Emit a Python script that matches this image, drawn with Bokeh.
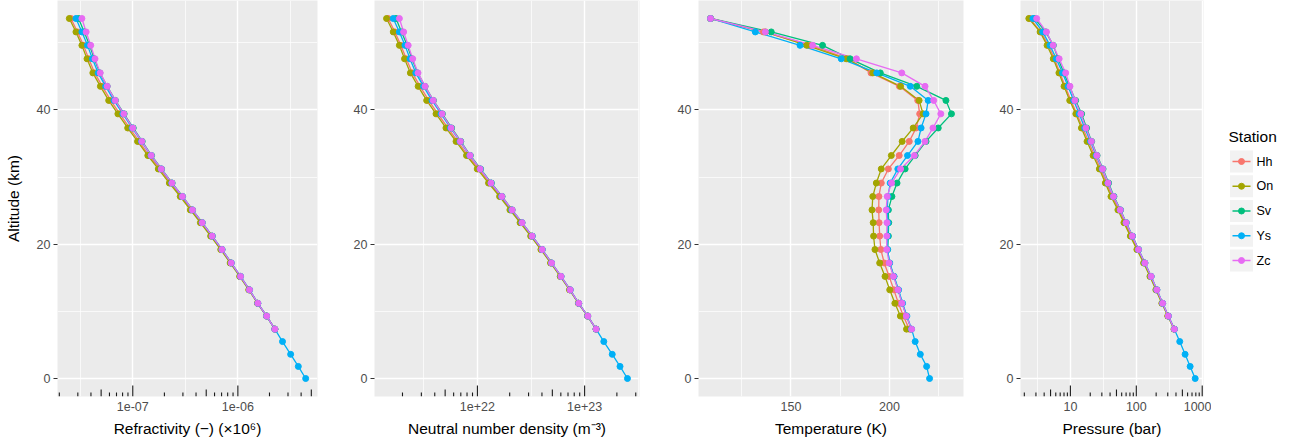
import math
from bokeh.plotting import figure
from bokeh.models import Range1d, FixedTicker, CustomJSTickFormatter
from bokeh.core.properties import value
from bokeh.layouts import row
from bokeh.embed import file_html
from bokeh.resources import INLINE

FONT = "Liberation Sans"

STATIONS = ["Hh", "On", "Sv", "Ys", "Zc"]
COLORS = {"Hh": "#F8766D", "On": "#A3A500", "Sv": "#00BF7D", "Ys": "#00B0F6", "Zc": "#E76BF3"}

# altitude levels (km); Ys covers all levels, the other stations start at 7.35 km
ALTITUDE = [0.0, 1.8, 3.6, 5.5, 7.35, 9.3, 11.2, 13.2, 15.2, 17.2, 19.2, 21.2, 23.2, 25.1,
            27.1, 29.1, 31.2, 33.2, 35.3, 37.3, 39.4, 41.4, 43.5, 45.5, 47.6, 49.6, 51.6, 53.6]
ALTITUDE_UPPER = ALTITUDE[4:]

# Temperature (K)
TEMP_HH = [210.0, 207.0, 204.5, 202.2, 199.8, 197.3, 195.6, 195.0, 194.7, 194.5, 194.6, 195.8,
           199.4, 204.9, 210.0, 213.5, 215.3, 214.3, 205.0, 190.6, 179.0, 160.0, 136.0, 109.2]
TEMP_ON = [208.6, 205.5, 202.7, 200.1, 197.7, 195.0, 192.6, 191.9, 191.7, 191.1, 191.5, 193.3,
           195.8, 200.9, 206.4, 212.0, 217.0, 215.0, 205.6, 191.5, 178.0, 158.0, 137.0, 109.2]
TEMP_SV = [211.0, 208.6, 206.4, 204.4, 202.2, 200.0, 199.0, 199.4, 199.6, 199.4, 201.2, 203.8,
           207.9, 213.0, 218.5, 224.7, 231.4, 228.6, 213.8, 195.3, 180.0, 166.0, 140.0, 109.2]
TEMP_YS = [220.3, 218.8, 215.6, 213.0, 211.2, 208.8, 206.6, 204.6, 202.3, 200.1, 199.0, 199.0,
           199.2, 198.8, 199.2, 200.3, 204.2, 209.1, 214.4, 216.0, 218.5, 219.6, 210.5, 193.5,
           175.5, 154.6, 131.9, 109.2]
TEMP_ZC = [211.2, 208.5, 206.3, 204.3, 202.0, 199.8, 198.6, 198.6, 198.7, 198.3, 198.8, 201.0,
           205.6, 212.6, 218.0, 222.0, 226.0, 222.4, 218.0, 206.2, 183.2, 161.0, 137.0, 109.2]

# Refractivity (-)
REFR_HH = [2.25e-6, 1.88e-6, 1.54e-6, 1.28e-6, 1.05e-6, 8.55e-7, 6.96e-7, 5.60e-7, 4.49e-7, 3.60e-7,
           2.89e-7, 2.29e-7, 1.80e-7, 1.43e-7, 1.15e-7, 9.31e-8, 7.53e-8, 6.16e-8, 5.13e-8, 4.34e-8,
           3.81e-8, 3.40e-8, 2.98e-8, 2.58e-8]
REFR_ON = [2.25e-6, 1.87e-6, 1.54e-6, 1.27e-6, 1.04e-6, 8.45e-7, 6.87e-7, 5.51e-7, 4.40e-7, 3.53e-7,
           2.83e-7, 2.23e-7, 1.75e-7, 1.39e-7, 1.11e-7, 8.95e-8, 7.22e-8, 5.90e-8, 4.92e-8, 4.17e-8,
           3.67e-8, 3.28e-8, 2.88e-8, 2.49e-8]
REFR_SV = [2.25e-6, 1.88e-6, 1.55e-6, 1.29e-6, 1.06e-6, 8.65e-7, 7.08e-7, 5.72e-7, 4.59e-7, 3.71e-7,
           2.98e-7, 2.37e-7, 1.88e-7, 1.51e-7, 1.23e-7, 1.01e-7, 8.28e-8, 6.84e-8, 5.71e-8, 4.86e-8,
           4.30e-8, 3.88e-8, 3.45e-8, 3.05e-8]
REFR_YS = [4.42e-6, 3.76e-6, 3.18e-6, 2.66e-6, 2.25e-6, 1.88e-6, 1.55e-6, 1.29e-6, 1.06e-6, 8.65e-7,
           7.06e-7, 5.69e-7, 4.57e-7, 3.68e-7, 2.96e-7, 2.35e-7, 1.86e-7, 1.49e-7, 1.21e-7, 9.86e-8,
           8.05e-8, 6.62e-8, 5.52e-8, 4.68e-8, 4.13e-8, 3.71e-8, 3.28e-8, 2.88e-8]
REFR_ZC = [2.25e-6, 1.88e-6, 1.55e-6, 1.29e-6, 1.06e-6, 8.65e-7, 7.06e-7, 5.70e-7, 4.58e-7, 3.70e-7,
           2.97e-7, 2.36e-7, 1.87e-7, 1.50e-7, 1.22e-7, 1.00e-7, 8.22e-8, 6.81e-8, 5.71e-8, 4.90e-8,
           4.37e-8, 3.98e-8, 3.60e-8, 3.28e-8]

# Neutral number density (m^-3)
DENS_HH = [1.28e23, 1.07e23, 8.76e22, 7.28e22, 5.97e22, 4.86e22, 3.96e22, 3.19e22, 2.55e22, 2.05e22,
           1.64e22, 1.30e22, 1.02e22, 8.14e21, 6.54e21, 5.30e21, 4.28e21, 3.51e21, 2.92e21, 2.47e21,
           2.17e21, 1.93e21, 1.70e21, 1.47e21]
DENS_ON = [1.28e23, 1.06e23, 8.76e22, 7.23e22, 5.92e22, 4.81e22, 3.91e22, 3.14e22, 2.50e22, 2.01e22,
           1.61e22, 1.27e22, 9.96e21, 7.91e21, 6.32e21, 5.09e21, 4.11e21, 3.36e21, 2.80e21, 2.37e21,
           2.09e21, 1.87e21, 1.64e21, 1.42e21]
DENS_SV = [1.28e23, 1.07e23, 8.82e22, 7.34e22, 6.03e22, 4.92e22, 4.03e22, 3.25e22, 2.61e22, 2.11e22,
           1.70e22, 1.35e22, 1.07e22, 8.59e21, 7.00e21, 5.75e21, 4.71e21, 3.89e21, 3.25e21, 2.77e21,
           2.45e21, 2.21e21, 1.96e21, 1.74e21]
DENS_YS = [2.51e23, 2.14e23, 1.81e23, 1.51e23, 1.28e23, 1.07e23, 8.82e22, 7.34e22, 6.03e22, 4.92e22,
           4.02e22, 3.24e22, 2.60e22, 2.09e22, 1.68e22, 1.34e22, 1.06e22, 8.48e21, 6.88e21, 5.61e21,
           4.58e21, 3.77e21, 3.14e21, 2.66e21, 2.35e21, 2.11e21, 1.87e21, 1.64e21]
DENS_ZC = [1.28e23, 1.07e23, 8.82e22, 7.34e22, 6.03e22, 4.92e22, 4.02e22, 3.24e22, 2.61e22, 2.11e22,
           1.69e22, 1.34e22, 1.06e22, 8.54e21, 6.94e21, 5.69e21, 4.68e21, 3.87e21, 3.25e21, 2.79e21,
           2.49e21, 2.26e21, 2.05e21, 1.87e21]

# Pressure (bar, as labelled)
PRES_HH = [376, 303, 247, 201, 164, 132, 105, 83.9, 67.2, 54.6, 43.0, 35.2, 28.7, 23.2, 18.9, 15.4,
           12.5, 10.2, 8.32, 6.94, 5.74, 4.65, 3.56, 2.42]
PRES_ON = [373, 300, 244, 198, 161, 129, 102, 81.2, 64.9, 52.6, 41.3, 33.9, 27.5, 22.1, 17.9, 14.7,
           12.1, 9.77, 8.01, 6.70, 5.50, 4.43, 3.47, 2.34]
PRES_SV = [378, 306, 251, 205, 168, 135, 108.2, 87.6, 70.5, 57.6, 45.8, 38.0, 31.3, 25.4, 21.0, 17.6,
           14.8, 12.0, 9.67, 7.96, 6.52, 5.51, 4.24, 2.86]
PRES_YS = [782, 656, 550, 456, 378, 306, 251, 205, 168, 135, 108, 87, 70, 57, 45, 37, 30.4, 24.6,
           20.2, 16.5, 13.6, 11.2, 9.2, 7.6, 6.1, 4.9, 3.8, 2.7]
PRES_ZC = [378, 306, 251, 205, 168, 135, 107.8, 87.0, 70.0, 57.1, 45.1, 37.3, 30.8, 25.2, 20.8, 17.2,
           14.4, 11.7, 9.86, 8.48, 6.75, 5.47, 4.33, 3.08]

ALT_BY_STATION = {"Hh": ALTITUDE_UPPER, "On": ALTITUDE_UPPER, "Sv": ALTITUDE_UPPER,
                  "Ys": ALTITUDE, "Zc": ALTITUDE_UPPER}
REFR = {"Hh": REFR_HH, "On": REFR_ON, "Sv": REFR_SV, "Ys": REFR_YS, "Zc": REFR_ZC}
DENS = {"Hh": DENS_HH, "On": DENS_ON, "Sv": DENS_SV, "Ys": DENS_YS, "Zc": DENS_ZC}
TEMP = {"Hh": TEMP_HH, "On": TEMP_ON, "Sv": TEMP_SV, "Ys": TEMP_YS, "Zc": TEMP_ZC}
PRES = {"Hh": PRES_HH, "On": PRES_ON, "Sv": PRES_SV, "Ys": PRES_YS, "Zc": PRES_ZC}

Y_TICKS = [0, 20, 40]
Y_MINOR = [10, 30, 50]

SCI_FORMAT = CustomJSTickFormatter(code="""
const e = Math.round(Math.log10(tick));
const a = Math.abs(e);
return "1e" + (e < 0 ? "-" : "+") + (a < 10 ? "0" + a : String(a));
""")
PLAIN_FORMAT = CustomJSTickFormatter(code="return String(Math.round(tick));")

FIG_H = 446
BOTTOM = 50
TICK_FS = "12.5px"
TITLE_FS = "15.5px"


def expand(lo, hi, log=False):
    if log:
        a, b = math.log10(lo), math.log10(hi)
        d = (b - a) * 0.05
        return 10 ** (a - d), 10 ** (b + d)
    d = (hi - lo) * 0.05
    return lo - d, hi + d


def panel(data, log, xticks, xminor, fmt, xlabel, width, left, right, ylabel=None):
    allx = [v for st in STATIONS for v in data[st]]
    xr = expand(min(allx), max(allx), log)
    yr = expand(min(ALTITUDE), max(ALTITUDE))
    p = figure(width=width, height=FIG_H, x_axis_type="log" if log else "linear",
               x_range=Range1d(*xr), y_range=Range1d(*yr),
               output_backend="svg", toolbar_location=None,
               min_border_left=left, min_border_right=right, min_border_top=0,
               min_border_bottom=BOTTOM, background_fill_color="#EBEBEB",
               border_fill_color="white", outline_line_color=None)

    xa = p.xaxis[0]
    xa.ticker = FixedTicker(ticks=xticks, minor_ticks=xminor)
    xa.formatter = fmt
    xa.axis_line_color = None
    xa.major_tick_line_color = None
    xa.major_tick_out = 0
    xa.major_tick_in = 0
    xa.minor_tick_line_color = None
    xa.minor_tick_out = 0
    xa.major_label_standoff = 5
    xa.major_label_text_font = FONT
    xa.major_label_text_font_size = TICK_FS
    xa.major_label_text_color = "#4D4D4D"
    xa.axis_label = xlabel
    xa.axis_label_text_font = FONT
    xa.axis_label_text_font_size = TITLE_FS
    xa.axis_label_text_font_style = "normal"
    xa.axis_label_text_color = "#000000"
    xa.axis_label_standoff = 6

    ya = p.yaxis[0]
    ya.ticker = FixedTicker(ticks=Y_TICKS, minor_ticks=Y_MINOR)
    ya.axis_line_color = None
    ya.major_tick_line_color = "#333333"
    ya.major_tick_out = 4
    ya.major_tick_in = 0
    ya.minor_tick_line_color = None
    ya.minor_tick_out = 0
    ya.major_label_standoff = 3
    ya.major_label_text_font = FONT
    ya.major_label_text_font_size = TICK_FS
    ya.major_label_text_color = "#4D4D4D"
    if ylabel:
        ya.axis_label = ylabel
        ya.axis_label_text_font = FONT
        ya.axis_label_text_font_size = TITLE_FS
        ya.axis_label_text_font_style = "normal"
        ya.axis_label_text_color = "#000000"
        ya.axis_label_standoff = 12

    for g in (p.xgrid[0], p.ygrid[0]):
        g.grid_line_color = "white"
        g.grid_line_width = 1.4
        g.minor_grid_line_color = "white"
        g.minor_grid_line_width = 0.7

    frame_h = FIG_H - BOTTOM
    if log:
        km_per_px = (yr[1] - yr[0]) / frame_h
        k0 = math.floor(math.log10(xr[0]))
        k1 = math.ceil(math.log10(xr[1]))
        for mults, length in (([1], 11), ([5], 7), ([2, 3, 4, 6, 7, 8, 9], 4)):
            xs = [m * 10 ** k for k in range(k0, k1 + 1) for m in mults
                  if xr[0] <= m * 10 ** k <= xr[1]]
            p.segment(x0=xs, y0=[yr[0]] * len(xs), x1=xs,
                      y1=[yr[0] + length * km_per_px] * len(xs),
                      line_color="#1A1A1A", line_width=1.1)

    for st in STATIONS:
        p.line(x=data[st], y=ALT_BY_STATION[st], line_color=COLORS[st], line_width=1.3)
    for st in STATIONS:
        p.scatter(x=data[st], y=ALT_BY_STATION[st], size=6,
                  fill_color=COLORS[st], line_color=COLORS[st])
    return p


def legend_panel(width):
    # a ggplot-style legend drawn in its own small canvas (frame pixels, y downwards)
    frame_h = FIG_H - BOTTOM
    lg = figure(width=width, height=FIG_H, x_range=Range1d(0, width), y_range=Range1d(frame_h, 0),
                output_backend="svg", toolbar_location=None, min_border_left=0,
                min_border_right=0, min_border_top=0, min_border_bottom=BOTTOM,
                x_axis_location=None, y_axis_location=None, outline_line_color=None,
                background_fill_color="white", border_fill_color="white")
    lg.grid.visible = False
    title_y = 136
    row0, step = 161, 24.75
    key_x, key_w = 30, 23
    rows_y = [row0 + i * step for i in range(len(STATIONS))]
    lg.text(x=[17], y=[title_y], text=["Station"], text_baseline="middle", text_align="left",
            text_font=value(FONT), text_font_size=value(TITLE_FS), text_color="#000000")
    lg.rect(x=[key_x] * len(STATIONS), y=rows_y, width=key_w, height=key_w - 1,
            fill_color="#F2F2F2", line_color=None)
    for st, yy in zip(STATIONS, rows_y):
        lg.segment(x0=[key_x - 9], y0=[yy], x1=[key_x + 9], y1=[yy],
                   line_color=COLORS[st], line_width=1.3)
        lg.scatter(x=[key_x], y=[yy], size=6, fill_color=COLORS[st], line_color=COLORS[st])
    lg.text(x=[45] * len(STATIONS), y=rows_y, text=STATIONS, text_baseline="middle",
            text_align="left", text_font=value(FONT), text_font_size=value(TICK_FS),
            text_color="#000000")
    return lg


p1 = panel(REFR, True, [1e-7, 1e-6], [10 ** -8.5, 10 ** -7.5, 10 ** -6.5, 10 ** -5.5], SCI_FORMAT,
           "Refractivity (\u2212) (\u00d710\u2076)", 325, 57, 8, ylabel="Altitude (km)")
p2 = panel(DENS, True, [1e22, 1e23], [10 ** 21.5, 10 ** 22.5, 10 ** 23.5], SCI_FORMAT,
           "Neutral number density (m\u207b\u00b3)", 325, 49, 11)
p3 = panel(TEMP, False, [150, 200], [125, 175, 225], PLAIN_FORMAT,
           "Temperature (K)", 325, 48, 12)
p4 = panel(PRES, True, [10, 100, 1000], [10 ** 0.5, 10 ** 1.5, 10 ** 2.5], PLAIN_FORMAT,
           "Pressure (bar)", 236, 45, 8)
leg = legend_panel(72)

layout = row(p1, p2, p3, p4, leg)
open("out.html", "w").write(file_html(layout, INLINE))
